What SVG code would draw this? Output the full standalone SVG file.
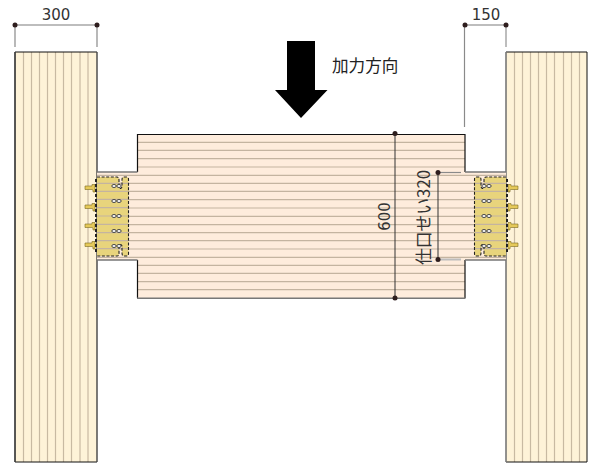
<svg xmlns="http://www.w3.org/2000/svg" width="600" height="470" viewBox="0 0 600 470">
<style>
text{font-family:"DejaVu Sans","Noto Sans CJK JP",sans-serif;fill:#333}
.jp{font-family:"Noto Sans CJK JP",sans-serif;font-weight:400}
.grain{stroke:#c8baa2;stroke-width:1.2;fill:none}
.hgrain{stroke:#c4b4a0;stroke-width:1.2;fill:none}
.dot{fill:#2e1d1d}
.dimL{stroke:#bdbdbd;stroke-width:2;fill:none}
.dimD{stroke:#8a8a8a;stroke-width:1.2;fill:none}
.dimK{stroke:#333;stroke-width:1;fill:none}
.plate{fill:#e8d47c;stroke:none}
.dash{fill:none;stroke:#222;stroke-width:1.1;stroke-dasharray:3 1.6}
.stub{fill:#e5c95a;stroke:#7a6a20;stroke-width:.6}
</style>
<defs>
<g id="hw">
<path class="plate" d="M0,0 L20,0 Q22,0 22,3 L22,10 Q23.500,13 25,10 L25,3 Q25,0 27,0 L29.500,0 Q31.500,0 31.500,2 L31.500,77 Q31.500,79 29.500,79 L27,79 Q25,79 25,76 L25,69 Q23.500,66 22,69 L22,76 Q22,79 20,79 L0,79 Z"/>
<path class="hgrain" d="M0,6.300H31M0,14.300H31M0,22.300H31M0,30.700H31M0,39H31M0,47.300H31M0,55.700H31M0,63.700H31M0,71.700H31"/>
<path class="dash" d="M0,0 L20,0 Q22,0 22,3 L22,10 Q23.500,13 25,10 L25,3 Q25,0 27,0 L29.500,0 Q31.500,0 31.500,2 L31.500,77 Q31.500,79 29.500,79 L27,79 Q25,79 25,76 L25,69 Q23.500,66 22,69 L22,76 Q22,79 20,79 L0,79"/>
<g fill="#fff" stroke="#444" stroke-width="1">
<ellipse cx="17" cy="9" rx="2.200" ry="1.500"/><ellipse cx="22" cy="9" rx="2.200" ry="1.500"/>
<ellipse cx="17" cy="24" rx="2.200" ry="1.500"/><ellipse cx="22" cy="24" rx="2.200" ry="1.500"/>
<ellipse cx="17" cy="39" rx="2.200" ry="1.500"/><ellipse cx="22" cy="39" rx="2.200" ry="1.500"/>
<ellipse cx="17" cy="54" rx="2.200" ry="1.500"/><ellipse cx="22" cy="54" rx="2.200" ry="1.500"/>
<ellipse cx="17" cy="69" rx="2.200" ry="1.500"/><ellipse cx="22" cy="69" rx="2.200" ry="1.500"/>
</g>
<g class="stub">
<path d="M-12,9 L-5,9 L-5,7.500 L-2,7.500 L-2,15 L-4,15 L-4,13 L-5,12.500 L-12,12.500 Z"/>
<path d="M-12,28 L-5,28 L-5,26.500 L-2,26.500 L-2,34 L-4,34 L-4,32 L-5,31.500 L-12,31.500 Z"/>
<path d="M-12,47 L-5,47 L-5,45.500 L-2,45.500 L-2,53 L-4,53 L-4,51 L-5,50.500 L-12,50.500 Z"/>
<path d="M-12,66 L-5,66 L-5,64.500 L-2,64.500 L-2,72 L-4,72 L-4,70 L-5,69.500 L-12,69.500 Z"/>
</g>
<path d="M-1,2V77" stroke="#222" stroke-width="2" stroke-dasharray="3 2" fill="none"/>
</g>
</defs>
<g id="column-left">
<rect x="15" y="52" width="82" height="410" fill="#fef3d8"/>
<path class="grain" d="M23.500,52V462M31.500,52V462M39.500,52V462M47.500,52V462M55.500,52V462M63.500,52V462M71.500,52V462M80,52V462M88,52V462"/>
<path d="M15,52H97M15,52V462H97" fill="none" stroke="#111" stroke-width="1"/>
<path d="M15,52V462M97,52V462" fill="none" stroke="#444" stroke-width="1.400"/>
</g>
<g id="column-right">
<rect x="506" y="52" width="81" height="410" fill="#fef3d8"/>
<path class="grain" d="M514.500,52V462M522.500,52V462M530.500,52V462M538.500,52V462M546.500,52V462M554.500,52V462M563.500,52V462M571.500,52V462M579.500,52V462"/>
<path d="M506,52H587V462H506" fill="none" stroke="#111" stroke-width="1"/>
<path d="M506,52V462" fill="none" stroke="#777" stroke-width="1.600"/>
</g>
<g id="beam">
<path d="M137.500,134.500H465V172H506V260H465V298H137.500V260H97V172H137.500Z" fill="#feecdc"/>
<path class="hgrain" d="M137.500,142.300H465M137.500,150.300H465M137.500,158.700H465M137.500,167H465M97,175.300H506M97,183.300H506M97,191.300H506M97,199.700H506M97,208H506M97,216.300H506M97,224.700H506M97,232.700H506M97,240.700H506M97,249H506M97,257.300H506M137.500,265.300H465M137.500,273.300H465M137.500,281.700H465M137.500,289.700H465"/>
<path d="M137.500,172V134.500H465V172M137.500,260V298M465,260V298" fill="none" stroke="#111" stroke-width="1.200"/>
<path d="M97,172H137.500M465,172H506M97,260H137.500M465,260H506M137,298.300H465.500" fill="none" stroke="#777" stroke-width="1.500"/>
</g>
<g id="hardware-left" transform="translate(97,177)"><use href="#hw"/></g>
<g id="hardware-right" transform="translate(506,177) scale(-1,1)"><use href="#hw"/></g>
<g id="load-arrow">
<path d="M287,41H315V90H327.500L301,118L275,90H287Z" fill="#000"/>
<text x="332" y="71.500" font-size="16.600" class="jp" style="fill:#222">加力方向</text>
</g>
<g id="connectors">
<path class="dimL" d="M15,25H97"/>
<path class="dimD" d="M15,25V47M97,25V47"/>
<path class="dimL" d="M465,25H506M506,25V47"/>
<path class="dimD" d="M464.500,25V127"/>
<path class="dimK" d="M395,133V298"/>
<path class="dimK" d="M438,173V259"/>
<path class="dimD" d="M438,172.500H461"/>
<path class="dimL" d="M438,259.500H461"/>
</g>
<g id="dots">
<circle class="dot" cx="15" cy="25" r="2.500"/><circle class="dot" cx="97" cy="25" r="2.500"/>
<circle class="dot" cx="465" cy="25" r="2.500"/><circle class="dot" cx="506" cy="25" r="2.500"/>
<circle class="dot" cx="395" cy="133.500" r="2.500"/><circle class="dot" cx="395" cy="298" r="2.500"/>
<circle class="dot" cx="438" cy="172.500" r="2.500"/><circle class="dot" cx="438" cy="259.500" r="2.500"/>
</g>
<g id="labels">
<text x="56" y="20" font-size="15" text-anchor="middle">300</text>
<text x="486" y="20" font-size="15" text-anchor="middle">150</text>
<text transform="translate(389.500,216.500) rotate(-90)" font-size="15" text-anchor="middle">600</text>
<text transform="translate(429.500,217.500) rotate(-90)" font-size="16.800" text-anchor="middle" class="jp">仕口せい320</text>
</g>
</svg>
